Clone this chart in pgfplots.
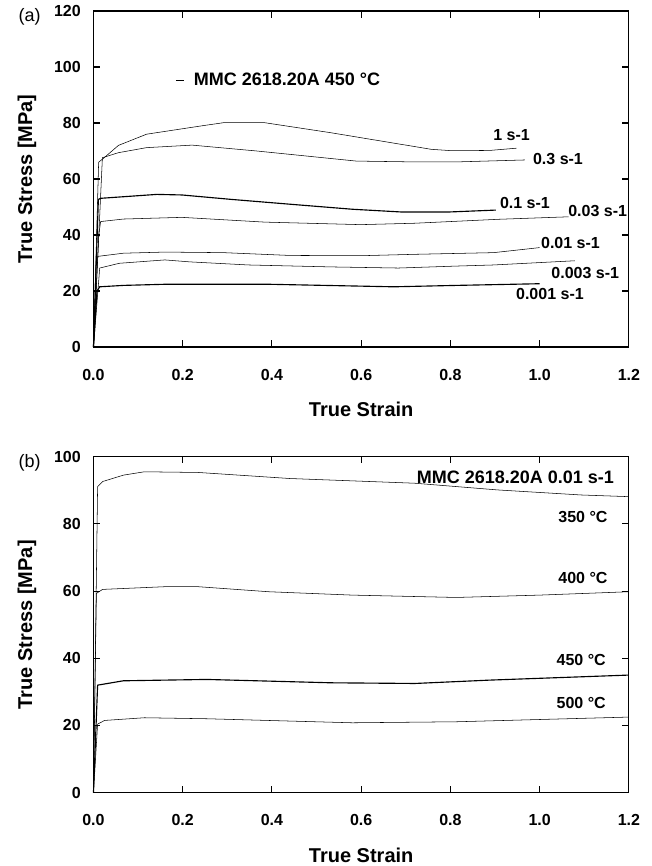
\documentclass[border=0pt]{standalone}
\usepackage{fontspec}
\setmainfont{Liberation Sans}
\usepackage{pgfplots}
\pgfplotsset{compat=1.18}

\pgfplotsset{
  ssc/.style={
    scale only axis,
    width=401.6pt, height=252pt,
    xmin=0, xmax=1.2,
    xtick={0,0.2,...,1.2},
    tick align=inside,
    major tick length=5pt,
    axis line style={line width=0.8pt},
    every tick/.style={line width=0.8pt, black},
    /pgf/number format/assume math mode=true,
    ticklabel style={font=\fontsize{12}{14}\selectfont\bfseries},
    xticklabel style={/pgf/number format/.cd, fixed, fixed zerofill, precision=1, /tikz/.cd, yshift=-13pt},
    yticklabel style={/pgf/number format/.cd, fixed, precision=0, /tikz/.cd, xshift=-6pt},
    xlabel={True Strain},
    ylabel={True Stress [MPa]},
    label style={font=\fontsize{15}{17}\selectfont\bfseries},
    xlabel style={at={(axis description cs:0.5,-0.187)}, anchor=center},
    ylabel style={at={(axis description cs:-0.124,0.5)}, anchor=center, rotate=0},
    cycle list={{black, solid, line width=0.85pt, mark=none}},
    no markers,
    clip=false,
  },
}
\tikzset{curvelbl/.style={font=\fontsize{12}{14}\selectfont\bfseries, inner sep=0pt}}

\begin{document}
\begin{tikzpicture}
\useasboundingbox (0,0) rectangle (488.25pt,-649.5pt);

% (a) strain-rate series at 450 C
\begin{axis}[ssc, at={(70.1pt,-8.25pt)}, anchor=north west,
    ymin=0, ymax=120, ytick={0,20,...,120},
    legend style={draw=none, fill=none, at={(axis cs:0.183,95.2)}, anchor=west,
      font=\fontsize{13.5}{15}\selectfont\bfseries, inner sep=0pt,
      nodes={inner xsep=7pt}},
    legend image code/.code={\draw[black, line width=0.85pt] (0pt,0pt) -- (6pt,0pt);},
  ]
  \addlegendimage{black}
  \addlegendentry{MMC 2618.20A 450 °C}
  \addplot coordinates {(0,0) (0.0116,66.0) (0.024,67.6) (0.056,72.0) (0.119,76.0) (0.239,78.9) (0.291,80.1) (0.384,80.1) (0.533,76.5) (0.757,70.6) (0.804,70.1) (0.888,70.2) (0.948,71.0)};
  \addplot coordinates {(0,0) (0.012,40) (0.02,67.6) (0.056,69.4) (0.119,71.2) (0.221,72.1) (0.366,70.0) (0.589,66.4) (0.72,66.1) (0.813,66.1) (0.967,66.8)};
  \addplot coordinates {(0,0) (0.011,52.7) (0.016,53.1) (0.142,54.5) (0.198,54.3) (0.31,52.7) (0.44,51.0) (0.58,49.2) (0.692,48.2) (0.794,48.2) (0.902,48.9)};
  \addplot coordinates {(0,0) (0.012,40) (0.016,44.8) (0.067,45.7) (0.198,46.3) (0.384,44.6) (0.599,43.7) (0.72,44.2) (0.906,45.6) (1.065,46.5)};
  \addplot coordinates {(0,0) (0.0065,32.3) (0.067,33.5) (0.16,33.9) (0.291,33.7) (0.44,32.7) (0.599,32.6) (0.72,33.1) (0.897,33.7) (1.0,35.5)};
  \addplot coordinates {(0,0) (0.014,28.2) (0.058,29.9) (0.16,31.1) (0.216,30.4) (0.347,29.3) (0.533,28.6) (0.683,28.2) (0.813,28.9) (0.897,29.3) (1.079,30.8)};
  \addplot coordinates {(0,0) (0.008,20) (0.014,21.5) (0.067,22.0) (0.16,22.4) (0.394,22.4) (0.673,21.5) (0.813,22.0) (1.0,22.6)};
  \node[curvelbl] at (axis cs:0.937,75.6) {1 s-1};
  \node[curvelbl] at (axis cs:1.041,67.3) {0.3 s-1};
  \node[curvelbl] at (axis cs:0.967,51.3) {0.1 s-1};
  \node[curvelbl] at (axis cs:1.13,48.6) {0.03 s-1};
  \node[curvelbl] at (axis cs:1.069,37.3) {0.01 s-1};
  \node[curvelbl] at (axis cs:1.102,26.3) {0.003 s-1};
  \node[curvelbl] at (axis cs:1.023,18.8) {0.001 s-1};
  \node[font=\fontsize{13.5}{15}\selectfont] at (axis description cs:-0.119,0.983) {(a)};
\end{axis}

% (b) temperature series at 0.01 s-1
\begin{axis}[ssc, at={(70.1pt,-342.5pt)}, anchor=north west,
    ymin=0, ymax=100, ytick={0,20,...,100},
  ]
  \addplot coordinates {(0,0) (0.0093,91.1) (0.0205,92.6) (0.067,94.5) (0.114,95.5) (0.235,95.3) (0.44,93.5) (0.72,92.1) (0.906,90.1) (1.093,88.6) (1.2,88.1)};
  \addplot coordinates {(0,0) (0.0065,59.3) (0.0205,60.5) (0.16,61.3) (0.235,61.3) (0.393,59.8) (0.58,58.8) (0.813,58.1) (1.0,58.8) (1.2,59.8)};
  \addplot coordinates {(0,0) (0.0093,32.0) (0.067,33.3) (0.254,33.7) (0.533,32.7) (0.72,32.5) (0.888,33.5) (1.2,35.0)};
  \addplot coordinates {(0,0) (0.0093,20.4) (0.025,21.5) (0.114,22.3) (0.254,22.0) (0.58,20.8) (0.813,21.1) (1.2,22.5)};
  \node[font=\fontsize{13.5}{15}\selectfont\bfseries, inner sep=0pt, anchor=east] at (axis cs:1.167,94.0) {MMC 2618.20A 0.01 s-1};
  \node[curvelbl] at (axis cs:1.097,82.1) {350 °C};
  \node[curvelbl] at (axis cs:1.097,64.0) {400 °C};
  \node[curvelbl] at (axis cs:1.093,39.4) {450 °C};
  \node[curvelbl] at (axis cs:1.093,26.7) {500 °C};
  \node[font=\fontsize{13.5}{15}\selectfont] at (axis description cs:-0.119,0.983) {(b)};
\end{axis}
\end{tikzpicture}
\end{document}
